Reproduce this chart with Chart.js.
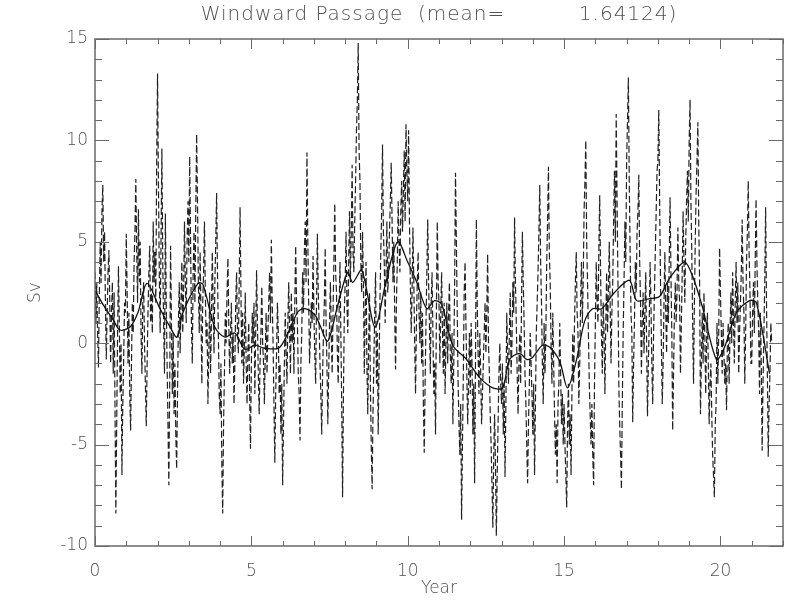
<!DOCTYPE html>
<html>
<head>
<meta charset="utf-8">
<title>Windward Passage</title>
<script src="https://cdn.jsdelivr.net/npm/chart.js@4.4.1/dist/chart.umd.min.js"></script>
<style>
  html, body { margin: 0; padding: 0; background: #fff; }
  canvas { display: block; }
</style>
</head>
<body>
<canvas id="transportChart" width="792" height="601"></canvas>
<script>
// --- Data ---
const sampleStep = 1 / 36; // years between transport samples (~10 days)
const transport = [
  3.5, 1.0, 3.0, 0.5, -1.2, 2.5, 5.0, 3.0, 6.5, 7.8, 4.0, 5.5, 2.0, -0.8, 1.5, 3.5, 4.6, 2.0, -1.0, 1.5, 3.0, -1.5, 2.5, -3.0, -8.4, -4.0, 0.5, 3.8, 1.0, -2.5, 0.0, -6.5, -3.0, -0.8, 2.0, 1.5, // year 0
  5.4, 2.5, -1.0, 1.5, -2.5, -4.3, -1.0, 2.0, 0.5, 4.0, 5.5, 8.1, 4.5, 2.0, 6.6, 3.0, 5.0, 0.5, -1.5, 2.0, 3.0, 0.0, -2.0, -4.1, -1.0, 1.5, 3.5, 4.8, 1.0, 2.5, 0.5, 6.0, 3.0, 4.5, 2.0, 9.0, // year 1
  13.3, 8.0, 3.5, 0.5, 5.0, 9.6, 4.0, 1.0, -1.5, 6.4, 2.0, -1.0, -4.0, -7.0, -2.0, 4.8, 1.0, -2.5, 0.5, -3.5, -1.0, -4.5, -6.2, -2.5, 1.0, 3.0, -0.5, 2.0, 4.0, 0.5, 2.5, 6.0, 3.0, 1.0, 5.0, 7.0, // year 2
  4.0, 9.2, 5.0, 1.0, -1.0, 3.5, 5.5, 2.0, 6.5, 10.3, 7.0, 3.0, 0.5, 4.5, 1.5, -2.0, 2.0, 3.5, 6.0, 2.5, 0.0, 1.0, -3.0, -0.5, 2.5, -1.5, 1.0, 4.5, 2.0, -0.5, 3.0, 5.0, 7.4, 3.5, 0.5, -2.5, // year 3
  -3.5, -1.0, -6.0, -8.4, -4.0, -1.5, 1.5, 0.0, 2.5, 4.2, 1.0, -1.5, 0.5, 2.0, -1.0, 0.5, -3.0, -1.0, 2.0, 3.5, 0.5, -0.5, 3.0, 6.7, 2.5, -1.0, 1.5, -2.0, 0.0, 2.5, -1.0, -3.0, -0.5, 1.0, -2.5, -5.2, // year 4
  -1.0, 1.5, 0.0, 2.0, -2.5, 0.5, 3.6, 1.0, -1.5, -3.5, -1.0, 0.5, 2.8, 0.0, -1.0, -3.0, -0.5, 1.5, -1.5, 0.5, 2.0, 3.5, 1.0, 5.1, 2.0, 0.0, -3.0, -5.9, -2.5, -0.5, 2.0, 0.5, -2.5, -1.0, -4.5, -2.0, // year 5
  -7.0, -4.0, -1.0, 1.5, -0.5, -2.0, 1.0, 3.0, 0.5, -1.5, 2.5, 0.0, 1.5, -1.5, 2.0, 4.8, 2.0, 1.0, -1.5, -2.5, -4.8, -1.0, 0.5, 3.5, 1.5, 4.5, 6.0, 3.0, 9.4, 5.0, 2.0, -1.0, 0.5, 2.0, 1.0, 4.3, // year 6
  1.5, -0.5, -2.0, 2.0, 5.4, 2.5, 1.0, -1.0, -2.5, -4.5, -1.5, 0.5, 2.0, 4.7, 1.0, -1.0, -4.0, -1.5, 1.0, 3.0, 0.5, -1.5, 1.5, 4.0, 6.9, 3.5, 2.5, -0.5, -2.0, 1.5, 4.0, 0.5, -3.0, -7.6, -2.5, 1.5, // year 7
  3.0, 5.5, 2.0, 0.5, 4.0, 6.5, 3.0, 5.5, 8.8, 4.5, 3.5, 6.0, 8.0, 10.5, 12.0, 14.8, 9.5, 8.0, 4.0, 2.5, 5.5, 3.0, -1.5, 1.5, 4.0, -1.0, -3.5, 0.0, 2.5, -2.0, -5.0, -7.2, -3.5, -1.0, 1.5, 3.5, // year 8
  -2.0, 0.5, -4.5, -1.0, 2.0, 4.5, 6.5, 9.8, 5.5, 4.0, 1.0, 3.5, 6.0, 2.5, 3.5, 5.5, 7.0, 8.9, 6.0, 3.0, 5.0, 1.5, -1.3, 2.0, 4.0, 7.0, 5.0, 3.5, 6.5, 8.0, 5.5, 7.5, 9.5, 6.0, 10.8, 8.5, // year 9
  7.0, 10.5, 6.0, 3.0, 0.5, 2.5, 5.7, 3.0, 0.0, -2.5, 1.0, 3.0, 4.5, 1.5, 0.0, 2.5, -1.0, 1.5, -3.0, -5.4, -2.0, 1.0, 3.5, 6.1, 3.0, 1.0, -1.5, 2.0, 3.5, 0.5, -2.5, -1.0, -4.5, 1.5, 6.0, 3.0, // year 10
  2.0, -1.0, 1.5, 3.5, 0.5, -1.5, 2.0, -2.5, 0.0, 2.0, -1.0, 1.5, 3.0, -0.5, -2.0, 0.5, -4.0, -1.0, 3.0, 8.4, 5.0, 1.5, -2.0, -4.0, -5.5, -3.0, -8.7, -5.0, -1.5, 2.5, 4.0, 1.0, -1.5, -4.0, -2.0, 0.5, // year 11
  -2.5, 1.0, -1.0, -4.5, -2.0, -6.9, -1.0, 6.1, 2.0, -0.5, -2.5, 0.5, -1.5, -4.0, -2.5, -1.0, 0.5, 2.0, -0.5, 1.5, 4.4, 0.0, -1.5, -3.5, -5.0, -7.0, -9.1, -5.5, -3.5, -6.0, -9.5, -6.5, -4.0, -1.5, 0.0, -2.0, // year 12
  -3.0, -1.0, -4.5, -2.0, -6.6, -3.0, 1.5, -0.5, -2.0, 0.5, 2.5, -1.5, 0.0, 3.0, 1.5, 6.2, 3.0, 1.0, -1.5, -3.5, -1.0, 0.5, -2.0, 2.0, 5.5, 3.0, 1.0, -1.5, -3.0, -5.0, -6.9, -4.0, -2.0, 0.5, -1.0, -2.5, // year 13
  -4.5, -2.0, -6.5, -3.0, 0.5, 2.0, 3.5, 5.5, 7.8, 4.0, 2.0, -1.0, -3.0, 1.0, -1.5, 0.5, 4.0, 6.0, 8.7, 4.5, 3.0, 0.0, -2.0, 1.5, -1.0, -3.5, -5.5, -4.0, -6.9, -3.0, -2.0, 1.0, -1.5, -4.0, -2.5, -5.0, // year 14
  -3.0, -5.0, -6.5, -8.1, -4.0, -2.0, -5.0, -3.5, -6.5, -2.5, 0.5, -2.0, 1.0, 3.0, 4.5, 1.5, 0.5, -3.0, -1.0, 2.0, 4.0, 1.0, 3.0, 6.5, 8.0, 10.0, 5.0, 3.0, 0.5, -2.0, -3.5, -5.0, -3.0, -5.5, -7.0, -2.0, // year 15
  1.0, 4.0, 2.0, 1.0, 4.5, 7.3, 3.5, 0.5, -1.5, 2.0, 0.5, -2.5, 1.0, 3.5, 0.5, 2.5, 5.0, 2.0, -1.0, 1.5, 3.0, 6.0, 8.5, 5.0, 11.3, 7.0, 3.0, -2.0, -4.0, -5.5, -7.2, -3.0, 0.5, 3.0, 6.0, 4.0, // year 16
  9.0, 11.0, 13.1, 8.0, 4.5, 1.5, 0.5, -3.9, -1.0, 1.0, 4.0, 2.5, 5.5, 6.5, 8.3, 4.0, 2.0, -1.5, 1.0, 2.5, -0.5, 1.5, 3.5, 0.0, -3.6, -1.0, 1.0, 4.0, 2.0, -1.0, -3.0, 0.5, 2.5, 4.5, 6.5, 8.5, // year 17
  9.0, 11.5, 7.0, 3.0, 0.0, -3.0, -1.0, 2.0, 4.5, 1.5, -0.5, 3.0, 1.0, 4.0, 7.2, 3.5, 0.5, -4.3, -1.5, 1.5, 3.0, 1.0, 2.5, 5.7, 3.0, 2.0, -1.5, 1.0, 3.5, 6.5, 4.0, 2.0, 5.0, 7.0, 8.5, 6.0, // year 18
  10.0, 12.0, 7.0, 4.5, 1.0, -2.0, 2.0, 5.0, 7.5, 9.0, 10.9, 6.0, 3.0, -3.5, -1.0, 1.5, -1.0, 2.5, 0.5, -2.5, 0.0, 1.5, -1.0, -4.0, -2.0, -1.0, -3.5, -5.5, -6.5, -7.6, -4.0, -3.0, 1.0, -2.0, 0.5, 4.7, // year 19
  2.5, 0.5, -1.5, 1.0, -0.5, -2.0, -1.0, -3.3, 0.0, 1.0, -2.0, 0.5, 2.5, 0.0, 3.5, 1.0, -1.0, 2.0, 4.0, 1.0, 3.0, -1.5, 0.5, 2.0, 3.5, 6.1, 3.0, 1.5, -2.0, 0.5, 4.0, 5.5, 8.0, 4.5, 2.5, -1.0, // year 20
  -1.0, 1.5, 3.0, 0.5, 4.0, 7.1, 4.0, 2.0, 0.5, -2.5, 1.5, -1.0, -5.3, -2.0, 0.5, 3.0, 6.7, 2.0, -1.5, -5.6, -3.0, -1.5, 1.0, 0.0 // year 21
];

// smoothed (running mean) curve
const smoothYears = [0, 0.3, 0.58, 0.8, 1.12, 1.37, 1.66, 2.08, 2.4, 2.62, 2.81, 3.29, 3.45, 3.83, 4.15, 4.47, 4.79, 5.11, 5.43, 5.91,
  6.49, 6.71, 7.03, 7.19, 7.44, 7.75, 8.08, 8.24, 8.53, 8.95, 9.3, 9.68, 10.0, 10.29, 10.61, 10.86, 11.09, 11.44, 11.88, 12.3,
  12.72, 13.03, 13.26, 13.58, 13.8, 13.99, 14.31, 14.54, 14.86, 15.11, 15.4, 15.65, 15.91, 16.2, 16.61, 17.09, 17.32, 17.73, 18.05, 18.37,
  18.85, 19.11, 19.42, 19.87, 20.13, 20.51, 20.93, 21.15, 21.57];
const smoothValues = [2.6, 1.8, 1.15, 0.65, 0.8, 1.5, 2.95, 1.7, 0.8, 0.3, 1.5, 2.95, 2.9, 0.8, 0.3, 0.5, -0.3, -0.1, -0.25, -0.2,
  1.55, 1.7, 1.4, 0.9, 0.1, 1.8, 3.5, 3.0, 3.6, 0.8, 3.0, 5.0, 4.0, 3.0, 1.7, 2.1, 1.9, -0.1, -0.8, -1.7,
  -2.2, -2.2, -0.8, -0.5, -0.8, -0.7, -0.1, -0.2, -0.9, -2.2, -0.8, 1.05, 1.7, 1.7, 2.5, 3.1, 2.1, 2.2, 2.3, 3.2,
  4.0, 3.3, 1.8, -0.8, -0.2, 1.5, 2.1, 2.0, -1.5];

const xTickLabels = [0, 5, 10, 15, 20];
const yTickLabels = [-10, -5, 0, 5, 10, 15];
const meanText = '1.64124';
const titleText = 'Windward Passage  (mean=          ' + meanText + ')';

// --- Styles ---
const textColor = '#505050';
const axisColor = '#6a6a6a';
const fontFamily = '"DejaVu Sans", sans-serif';

// --- Plugins ---
// IDL-style title centred over the plot box
const plotTitle = {
  id: 'plotTitle',
  afterDraw(chart) {
    const { ctx, chartArea: a } = chart;
    ctx.save();
    ctx.font = '300 20px ' + fontFamily;
    ctx.letterSpacing = '1px';
    ctx.fillStyle = textColor;
    ctx.textAlign = 'center';
    ctx.textBaseline = 'middle';
    ctx.fillText(titleText, (a.left + a.right) / 2, 15);
    ctx.restore();
  }
};

// box frame with inward ticks on all four sides
const boxTicks = {
  id: 'boxTicks',
  afterDraw(chart) {
    const { ctx, chartArea: a, scales: { x, y } } = chart;
    ctx.save();
    ctx.strokeStyle = axisColor;
    ctx.lineWidth = 1.5;
    ctx.strokeRect(a.left, a.top, a.right - a.left, a.bottom - a.top);
    ctx.lineWidth = 1;
    ctx.beginPath();
    for (let v = x.min; v <= x.max; v++) {
      const px = Math.round(x.getPixelForValue(v)) + 0.5;
      const len = v % 5 === 0 ? 10 : 5;
      ctx.moveTo(px, a.bottom); ctx.lineTo(px, a.bottom - len);
      ctx.moveTo(px, a.top); ctx.lineTo(px, a.top + len);
    }
    for (let v = y.min; v <= y.max; v++) {
      const py = Math.round(y.getPixelForValue(v)) + 0.5;
      const len = v % 5 === 0 ? 14 : 7;
      ctx.moveTo(a.left, py); ctx.lineTo(a.left + len, py);
      ctx.moveTo(a.right, py); ctx.lineTo(a.right - len, py);
    }
    ctx.stroke();
    ctx.restore();
  }
};

// --- Chart ---
const transportPoints = transport.map((v, i) => ({ x: i * sampleStep, y: v }));
const smoothPoints = smoothYears.map((t, i) => ({ x: t, y: smoothValues[i] }));
const tickFont = { family: fontFamily, size: 17, weight: 300 };

new Chart(document.getElementById('transportChart'), {
  type: 'line',
  data: {
    datasets: [
      {
        label: 'Running mean',
        data: smoothPoints,
        borderColor: '#111',
        borderWidth: 1.3,
        pointRadius: 0,
        tension: 0.3,
        order: 0
      },
      {
        label: 'Transport',
        data: transportPoints,
        borderColor: 'rgba(10,10,10,0.9)',
        borderWidth: 1.2,
        borderDash: [7, 3],
        pointRadius: 0,
        tension: 0,
        order: 1
      }
    ]
  },
  options: {
    responsive: false,
    animation: false,
    devicePixelRatio: 1,
    layout: { padding: { top: 39, right: 9, bottom: 0, left: 0 } },
    plugins: { legend: { display: false }, tooltip: { enabled: false }, title: { display: false } },
    scales: {
      x: {
        type: 'linear',
        min: 0,
        max: 22,
        afterBuildTicks: s => { s.ticks = xTickLabels.map(v => ({ value: v })); },
        afterFit: s => { s.height = 55; },
        grid: { display: false, drawTicks: false },
        border: { display: false },
        ticks: { color: textColor, font: tickFont, padding: 15, maxRotation: 0, autoSkip: false },
        title: { display: true, text: 'Year', color: textColor, font: tickFont, padding: { top: 0, bottom: 2 } }
      },
      y: {
        type: 'linear',
        min: -10,
        max: 15,
        afterBuildTicks: s => { s.ticks = yTickLabels.map(v => ({ value: v })); },
        afterFit: s => { s.width = 95; },
        grid: { display: false, drawTicks: false },
        border: { display: false },
        ticks: { color: textColor, font: tickFont, padding: 7 },
        title: { display: true, text: 'Sv', color: textColor, font: tickFont, padding: { top: 25, bottom: 0 } }
      }
    }
  },
  plugins: [plotTitle, boxTicks]
});
</script>
</body>
</html>
